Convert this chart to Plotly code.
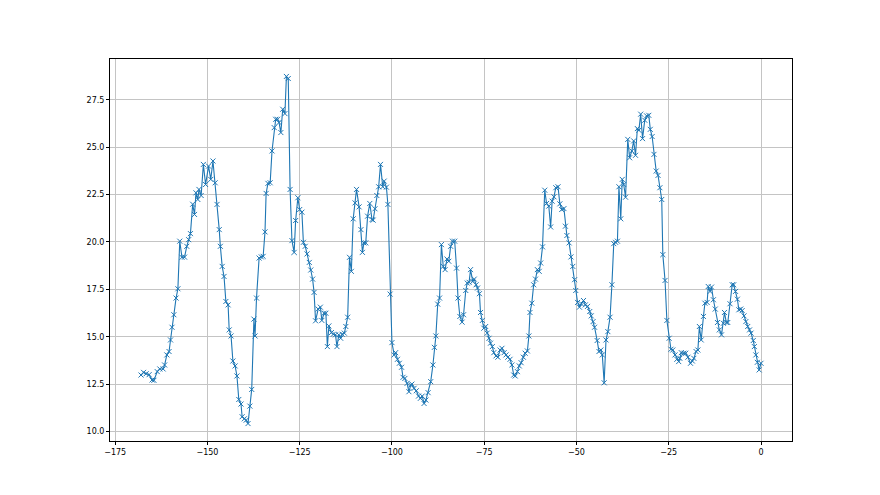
import plotly.graph_objects as go

# hours before now
hours = [
    -168.0, -167.3, -166.6, -165.8, -165.0, -164.5, -163.6, -162.9, -162.0, -161.6,
    -161.0, -160.4, -160.0, -159.6, -159.1, -158.5, -158.0, -157.5, -156.9, -156.2,
    -155.6, -155.1, -154.6, -154.0, -153.5, -153.1, -152.6, -152.3, -151.7, -151.1,
    -150.5, -149.7, -149.1, -148.5, -147.9, -147.4, -146.8, -146.5, -146.0, -145.5,
    -145.0, -144.4, -144.1,
    -143.6, -143.1, -142.5, -142.0, -141.5, -140.9, -140.6, -140.0, -139.5, -139.0,
    -138.5, -138.0, -137.4, -137.1, -136.7, -136.0, -135.4, -134.9, -134.4, -134.1,
    -133.6, -133.0, -132.5, -131.9, -131.5, -131.0, -130.6, -130.1, -129.6, -129.0,
    -128.6, -128.1, -127.6, -127.1, -126.5, -126.1, -125.5, -125.0, -124.4, -124.0,
    -123.5, -123.0, -122.4, -122.0, -121.5, -121.1, -120.7, -120.0,
    -119.4, -119.0, -118.4, -117.9, -117.5, -117.1, -116.4, -115.9, -115.3, -114.9,
    -114.4, -113.9, -113.5, -112.9, -112.5, -112.0, -111.5, -111.0, -110.5, -110.0,
    -109.6, -108.9, -108.4, -108.0, -107.6, -107.1, -106.6, -106.0, -105.4, -105.1,
    -104.6, -104.1, -103.6, -103.1, -102.5, -102.1, -101.5, -101.1, -100.5, -100.0,
    -99.4, -99.0, -98.5, -98.0, -97.4, -97.0, -96.5, -95.9, -95.4,
    -94.9, -94.6, -94.0, -93.4, -92.8, -92.3, -91.8, -91.3, -90.8, -90.2,
    -89.5, -88.9, -88.5, -88.1, -87.6, -87.1, -86.6, -86.1, -85.6, -85.1,
    -84.6, -84.1, -83.6, -83.0, -82.5, -82.1, -81.6, -81.0, -80.6, -80.0,
    -79.6, -79.1, -78.7, -78.1, -77.7, -77.2, -76.8, -76.3, -76.0, -75.5,
    -75.1, -74.6, -74.2, -73.7, -73.3, -72.8, -72.4, -71.8, -71.3,
    -70.7, -70.2, -69.6, -69.1, -68.6, -68.0, -67.5, -67.0, -66.6, -66.0,
    -65.5, -65.0, -64.4, -63.9, -63.3, -62.9, -62.6, -62.1, -61.6, -61.1,
    -60.6, -60.1, -59.7, -59.2, -58.6, -58.1, -57.5, -57.0, -56.6, -56.1,
    -55.6, -55.0, -54.5, -54.0, -53.4, -53.0, -52.6, -52.0, -51.5, -51.0,
    -50.5, -50.2, -49.7, -49.2, -48.7, -48.1, -47.6, -47.0, -46.4,
    -46.0, -45.5, -45.1, -44.4, -43.9, -43.4, -43.0, -42.5, -42.0, -41.5,
    -40.9, -40.4, -39.9, -39.4, -38.9, -38.5, -38.0, -37.6, -37.2, -36.7,
    -36.1, -35.6, -35.0, -34.5, -34.0, -33.5, -33.1, -32.6, -32.1, -31.5,
    -31.0, -30.4, -30.0, -29.5, -29.0, -28.4, -27.9, -27.4, -26.9, -26.6,
    -26.0, -25.5, -24.9, -24.4, -23.9, -23.3, -22.8, -22.3,
    -22.0, -21.6, -20.9, -20.4, -19.8, -19.1, -18.6, -18.2, -17.6, -17.1,
    -16.7, -16.2, -15.6, -15.2, -14.6, -14.3, -13.8, -13.4, -12.9, -12.4,
    -11.8, -11.3, -10.7, -10.2, -9.9, -9.4, -9.0, -8.4, -7.8, -7.4,
    -6.9, -6.4, -6.0, -5.5, -5.1, -4.6, -4.1, -3.6, -3.1, -2.7,
    -2.1, -1.8, -1.4, -1.0, -0.5, 0.0,
]

values = [
    12.98, 13.12, 13.05, 13.0, 12.72, 12.7, 13.16, 13.30, 13.3, 13.51,
    14.04, 14.22, 14.83, 15.5, 16.16, 17.04, 17.53, 20.04, 19.19, 19.2,
    19.77, 20.12, 20.44, 21.99, 21.45, 22.59, 22.24, 22.77, 22.45, 24.09,
    23.03, 24.0, 23.3, 24.27, 23.12, 21.98, 20.65, 19.77, 18.71, 18.18,
    16.86, 16.68, 15.36,
    15.04, 13.72, 13.46, 12.93, 11.69, 11.45, 10.78, 10.67, 10.60, 10.42,
    11.34, 12.22, 15.93, 15.04, 17.04, 19.15, 19.21, 19.24, 20.53, 22.56,
    23.09, 23.12, 24.8, 26.03, 26.47, 26.47, 26.3, 25.77, 27.0, 26.77,
    28.73, 28.62, 22.77, 20.07, 19.45, 21.13, 22.33, 21.71, 21.57, 19.98,
    19.77, 19.37, 18.92, 18.52, 18.04, 17.34, 15.84, 16.46,
    16.56, 15.86, 16.24, 16.24, 14.48, 15.57, 15.22, 15.13, 15.10, 14.48,
    15.10, 14.92, 15.13, 15.19, 15.54, 16.03, 19.19, 18.45, 21.22, 22.06,
    22.77, 21.85, 20.65, 19.45, 19.95, 19.95, 21.36, 22.03, 21.18, 21.15,
    21.75, 22.45, 22.91, 24.09, 22.91, 23.21, 22.89, 21.98, 17.25, 14.69,
    14.04, 14.16, 13.81, 13.60, 13.39, 12.86, 12.80, 12.54, 12.10,
    12.45, 12.50, 12.28, 12.15, 11.87, 11.75, 11.87, 11.48, 11.66, 12.05,
    12.63, 13.51, 14.44, 15.04, 16.72, 17.04, 19.86, 18.71, 18.54, 19.10,
    18.98, 19.77, 20.04, 20.04, 18.62, 17.04, 16.07, 15.77, 16.16, 17.44,
    17.83, 17.87, 18.54, 17.92, 18.04, 17.74, 17.57, 17.27, 16.28, 15.86,
    15.45, 15.54, 15.19, 14.92, 14.66, 14.48, 14.16, 13.99, 13.92,
    14.30, 14.39, 14.16, 14.04, 13.92, 13.81, 13.51, 12.98, 12.93, 13.16,
    13.46, 13.63, 13.92, 14.13, 14.25, 15.04, 16.28, 16.77, 17.74, 18.04,
    18.54, 18.45, 18.89, 19.74, 22.73, 22.03, 21.89, 20.79, 22.15, 22.38,
    22.86, 22.91, 22.01, 21.71, 21.76, 20.83, 20.34, 19.95, 19.21, 18.71,
    18.01, 17.44, 16.81, 16.56, 16.74, 16.91, 16.68, 16.60, 16.33,
    16.10, 15.80, 15.50, 14.80, 14.22, 14.30, 14.04, 12.57, 14.83, 15.27,
    16.03, 17.74, 19.91, 19.98, 20.04, 22.91, 21.22, 23.30, 23.03, 22.36,
    25.41, 24.44, 24.80, 25.33, 24.57, 25.98, 25.89, 26.74, 25.45, 26.42,
    26.65, 26.68, 25.94, 25.56, 24.62, 23.74, 23.51, 22.86, 22.24, 19.33,
    17.97, 15.86, 14.92, 14.34, 14.30, 14.04, 13.81, 13.69,
    13.86, 14.16, 14.13, 14.13, 13.92, 13.60, 13.72, 13.86, 14.22, 14.30,
    15.54, 14.83, 16.07, 16.77, 16.81, 17.65, 17.39, 17.62, 16.95, 16.46,
    15.75, 15.36, 15.10, 15.71, 16.28, 15.75, 15.75, 16.74, 17.74, 17.74,
    17.39, 16.98, 16.42, 16.46, 16.38, 16.10, 15.80, 15.54, 15.36, 15.19,
    14.80, 14.48, 14.04, 13.65, 13.25, 13.60,
]

x_ticks = [-175, -150, -125, -100, -75, -50, -25, 0]
y_ticks = [10.0, 12.5, 15.0, 17.5, 20.0, 22.5, 25.0, 27.5]

BLUE = "#1f77b4"
GRID = "#c4c4c4"

fig = go.Figure()
fig.add_trace(
    go.Scatter(
        x=hours,
        y=values,
        mode="lines+markers",
        line=dict(color=BLUE, width=1.1),
        marker=dict(symbol="x-thin", size=5, line=dict(color=BLUE, width=1)),
        showlegend=False,
    )
)

axis_style = dict(
    showline=True,
    linecolor="black",
    linewidth=1,
    mirror=True,
    ticks="outside",
    ticklen=3,
    tickwidth=1,
    tickcolor="black",
    showgrid=True,
    gridcolor=GRID,
    gridwidth=0.8,
    zeroline=False,
    tickfont=dict(family="DejaVu Sans", size=8, color="black"),
)

fig.update_xaxes(tickvals=x_ticks, range=[-176.4, 8.4], **axis_style)
fig.update_yaxes(
    tickvals=y_ticks, tickformat=".1f", range=[9.5, 29.65], **axis_style
)

# the page body adds 8px on the top and left, so margins are trimmed by that
fig.update_layout(
    width=880,
    height=495,
    plot_bgcolor="white",
    paper_bgcolor="white",
    margin=dict(l=102, r=96, t=51, b=62),
)

fig.write_html("out.html")
